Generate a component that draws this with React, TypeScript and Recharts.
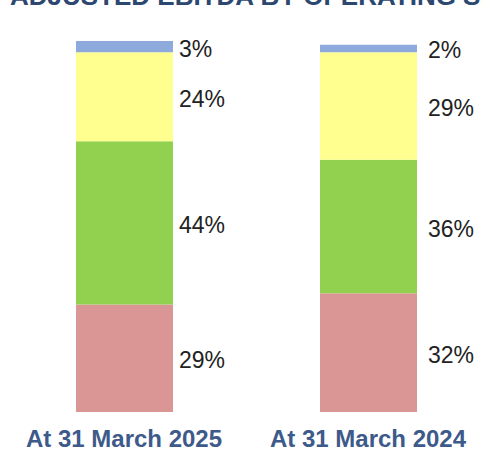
import { BarChart, Bar, XAxis, YAxis, LabelList } from 'recharts';

const categories = ['At 31 March 2025', 'At 31 March 2024'];
const segmentA = [29, 32]; // bottom, red
const segmentB = [44, 36]; // green
const segmentC = [24, 29]; // yellow
const segmentD = [3, 2]; // top, blue

const data = categories.map((name, i) => ({
  name,
  a: segmentA[i],
  b: segmentB[i],
  c: segmentC[i],
  d: segmentD[i],
}));

const labelGap = [6, 11];

const renderLabel = (props: any) => {
  const { x, y, width, height, value, index } = props;
  return (
    <text
      x={x + width + labelGap[index]}
      y={y + height / 2 + 2}
      dominantBaseline="central"
      fill="#222"
      fontSize={23}
      fontFamily="Liberation Sans, Arial, sans-serif"
    >
      {`${value}%`}
    </text>
  );
};

const series = [
  { key: 'a', color: '#da9694' },
  { key: 'b', color: '#92d050' },
  { key: 'c', color: '#ffff8f' },
  { key: 'd', color: '#8ea9db' },
];

export default function App() {
  return (
    <div style={{ position: 'absolute', left: 0, top: 0, width: 482, height: 452, overflow: 'hidden', background: '#fff' }}>
      <svg width={482} height={20} style={{ position: 'absolute', left: 0, top: 0 }}>
        <text
          x={10}
          y={5}
          fill="#2c4770"
          fontSize={26}
          fontWeight="bold"
          fontFamily="Liberation Sans, Arial, sans-serif"
        >
          ADJUSTED EBITDA BY OPERATING SEGMENT
        </text>
      </svg>
      <BarChart
        width={490}
        height={452}
        data={data}
        margin={{ top: 41, right: 0, bottom: 0, left: 2 }}
        barSize={97}
      >
        <XAxis
          dataKey="name"
          axisLine={false}
          tickLine={false}
          height={40}
          tick={{ fill: '#3d5a8a', fontSize: 24, fontWeight: 'bold', fontFamily: 'Liberation Sans, Arial, sans-serif' }}
          dy={10}
        />
        <YAxis hide domain={[0, 100]} />
        {series.map((s) => (
          <Bar key={s.key} dataKey={s.key} stackId="x" fill={s.color} isAnimationActive={false}>
            <LabelList dataKey={s.key} content={renderLabel} />
          </Bar>
        ))}
      </BarChart>
    </div>
  );
}
